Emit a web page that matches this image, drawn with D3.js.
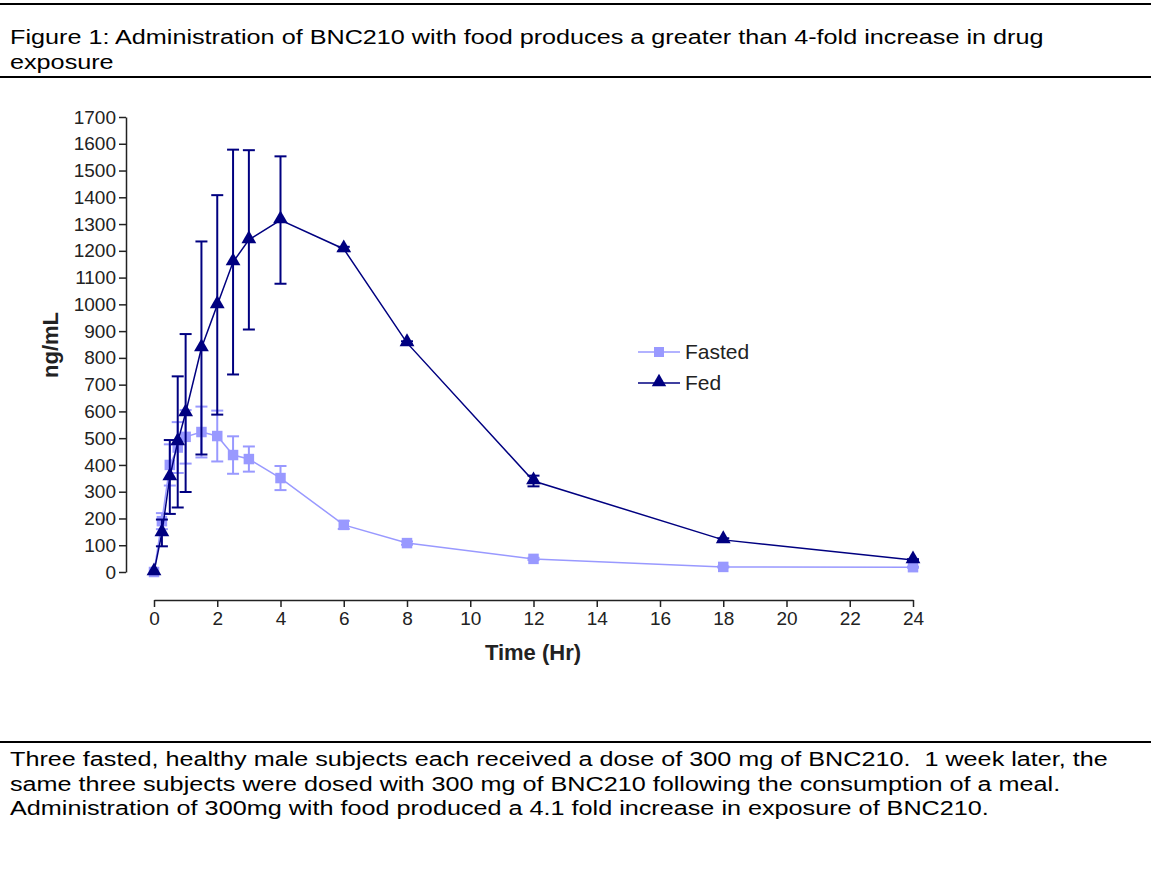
<!DOCTYPE html>
<html>
  <head>
    <script src="https://d3js.org/d3.v7.min.js" charset="utf-8"></script>
    <meta charset="UTF-8">
    <title>BNC210 fed vs fasted</title>
    <style>
      body { margin: 0; background: #fff; }
      text { font-family: Arial, "Liberation Sans", sans-serif; white-space: pre; }
    </style>
  </head>
  <body>
    <svg class="chart"></svg>
    <script type="text/javascript">

     var width = 1151,
         height = 883;

     // sampling times (hr)
     var times = [0, 0.25, 0.5, 0.75, 1, 1.5, 2, 2.5, 3, 4, 6, 8, 12, 18, 24];

     // mean concentration (ng/mL) and error (+/-)
     var fasted    = [0, 190, 400, 465, 505, 523, 508, 437, 422, 351, 176, 108, 49, 19, 18];
     var fastedErr = [0, 30, 77, 95, 100, 95, 95, 70, 47, 45, 15, 6, 4, 2, 2];
     var fed       = [0, 146, 355, 486, 594, 837, 998, 1158, 1241, 1315, 1207, 856, 340, 120, 45];
     var fedErr    = [0, 50, 138, 245, 295, 398, 410, 420, 335, 238, 8, 6, 20, 6, 3];

     var yTicks = d3.range(0, 1800, 100);
     var xTicks = d3.range(0, 26, 2);

     var titleLines = ["Figure 1: Administration of BNC210 with food produces a greater than 4-fold increase in drug",
                       "exposure"];
     var captionLines = ["Three fasted, healthy male subjects each received a dose of 300 mg of BNC210.  1 week later, the",
                         "same three subjects were dosed with 300 mg of BNC210 following the consumption of a meal.",
                         "Administration of 300mg with food produced a 4.1 fold increase in exposure of BNC210."];

     var fastedColor = "#9999ff",
         fedColor = "#000080";

     var chart = d3.select(".chart")
                   .attr("width", width)
                   .attr("height", height);

     chart.append("rect").attr("width", width).attr("height", height).attr("fill", "#fff");

     // rules
     [4, 77, 742].forEach(function(yy) {
         chart.append("line")
              .attr("x1", 0).attr("x2", width)
              .attr("y1", yy).attr("y2", yy)
              .attr("stroke", "#000").attr("stroke-width", 2);
     });

     // text blocks are stretched sideways like the original document
     chart.append("g").selectAll("text")
          .data(titleLines)
          .enter().append("text")
          .attr("transform", function(d, i) { return "translate(10," + (44 + i * 25) + ") scale(1.2,1)"; })
          .attr("font-size", 21)
          .text(function(d) { return d; });

     chart.append("g").selectAll("text")
          .data(captionLines)
          .enter().append("text")
          .attr("transform", function(d, i) { return "translate(10," + (766 + i * 24.5) + ") scale(1.2,1)"; })
          .attr("font-size", 21)
          .text(function(d) { return d; });

     var x = d3.scaleLinear().domain([0, 24]).range([154, 913]);
     var y = d3.scaleLinear().domain([0, 1700]).range([572, 117]);

     var yAxis = chart.append("g")
                      .attr("transform", "translate(126,0)")
                      .call(d3.axisLeft(y).tickValues(yTicks).tickFormat(d3.format("d"))
                              .tickSize(7).tickSizeOuter(0).tickPadding(3));
     var xAxis = chart.append("g")
                      .attr("transform", "translate(0,600)")
                      .call(d3.axisBottom(x).tickValues(xTicks).tickFormat(d3.format("d"))
                              .tickSize(7).tickSizeOuter(0).tickPadding(5));

     [yAxis, xAxis].forEach(function(ax) {
         ax.selectAll("path, line").attr("stroke", "#222").attr("stroke-width", 1.5);
         ax.selectAll("text").attr("font-size", 19).attr("fill", "#222")
           .attr("font-family", "Arial, 'Liberation Sans', sans-serif");
     });

     chart.append("text")
          .attr("transform", "translate(58,345) rotate(-90)")
          .attr("text-anchor", "middle")
          .attr("font-size", 22).attr("font-weight", "bold").attr("fill", "#222")
          .text("ng/mL");

     chart.append("text")
          .attr("x", 533).attr("y", 660)
          .attr("text-anchor", "middle")
          .attr("font-size", 22).attr("font-weight", "bold").attr("fill", "#222")
          .text("Time (Hr)");

     function series(vals, errs, color, kind) {
         var pts = times.map(function(t, i) { return {t: t, v: vals[i], e: errs[i]}; });
         var g = chart.append("g");
         var line = d3.line().x(function(d) { return x(d.t); }).y(function(d) { return y(d.v); });

         var eb = g.append("g").selectAll("g")
                   .data(pts.filter(function(d) { return d.e > 0; }))
                   .enter().append("g")
                   .attr("stroke", color).attr("stroke-width", 2);
         eb.append("line")
           .attr("x1", function(d) { return x(d.t); })
           .attr("x2", function(d) { return x(d.t); })
           .attr("y1", function(d) { return y(d.v + d.e); })
           .attr("y2", function(d) { return y(Math.max(0, d.v - d.e)); });
         eb.append("line")
           .attr("x1", function(d) { return x(d.t) - 6; })
           .attr("x2", function(d) { return x(d.t) + 6; })
           .attr("y1", function(d) { return y(d.v + d.e); })
           .attr("y2", function(d) { return y(d.v + d.e); });
         eb.append("line")
           .attr("x1", function(d) { return x(d.t) - 6; })
           .attr("x2", function(d) { return x(d.t) + 6; })
           .attr("y1", function(d) { return y(Math.max(0, d.v - d.e)); })
           .attr("y2", function(d) { return y(Math.max(0, d.v - d.e)); });

         g.append("path")
          .attr("d", line(pts))
          .attr("fill", "none")
          .attr("stroke", color)
          .attr("stroke-width", 1.5);

         var sym = kind == "square" ? d3.symbol().type(d3.symbolSquare).size(110)
                                    : d3.symbol().type(d3.symbolTriangle).size(95);
         g.append("g").selectAll("path")
          .data(pts)
          .enter().append("path")
          .attr("d", sym)
          .attr("transform", function(d) {
              return "translate(" + x(d.t) + "," + (y(d.v) + (kind == "square" ? 0 : -1)) + ")";
          })
          .attr("fill", color);
     }

     series(fasted, fastedErr, fastedColor, "square");
     series(fed, fedErr, fedColor, "triangle");

     // legend
     var legend = [{name: "Fasted", color: fastedColor, kind: "square", y: 352},
                   {name: "Fed", color: fedColor, kind: "triangle", y: 383}];
     var lg = chart.append("g").selectAll("g")
                   .data(legend)
                   .enter().append("g")
                   .attr("transform", function(d) { return "translate(638," + d.y + ")"; });
     lg.append("line")
       .attr("x1", 0).attr("x2", 42)
       .attr("stroke", function(d) { return d.color; })
       .attr("stroke-width", 1.5);
     lg.append("path")
       .attr("transform", function(d) { return "translate(21," + (d.kind == "square" ? 0 : -1) + ")"; })
       .attr("d", function(d) {
           return d.kind == "square" ? d3.symbol().type(d3.symbolSquare).size(100)()
                                     : d3.symbol().type(d3.symbolTriangle).size(90)();
       })
       .attr("fill", function(d) { return d.color; });
     lg.append("text")
       .attr("x", 47).attr("y", 7)
       .attr("font-size", 21).attr("fill", "#222")
       .text(function(d) { return d.name; });

    </script>
  </body>
</html>
